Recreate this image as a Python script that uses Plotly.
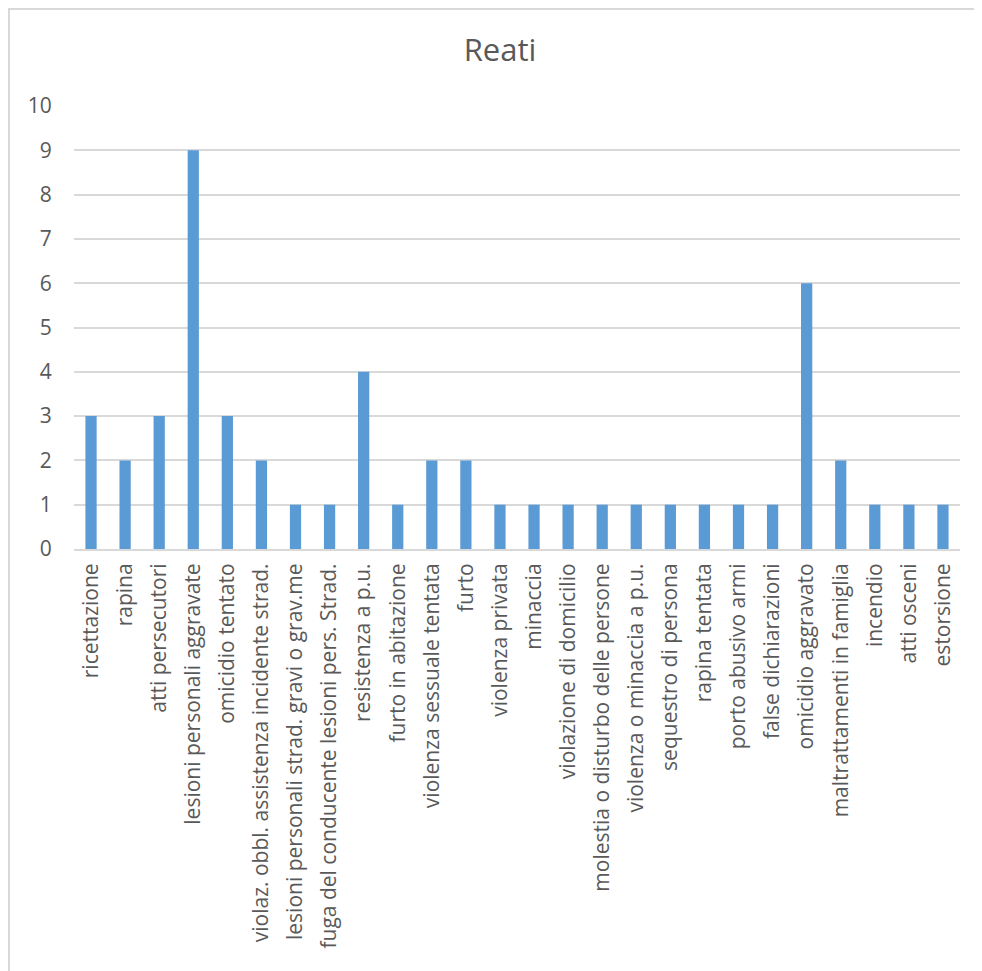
import plotly.graph_objects as go

categories = [
    "ricettazione", "rapina", "atti persecutori", "lesioni personali aggravate",
    "omicidio tentato", "violaz. obbl. assistenza incidente strad.",
    "lesioni personali strad. gravi o grav.me", "fuga del conducente lesioni pers. Strad.",
    "resistenza a p.u.", "furto in abitazione", "violenza sessuale tentata", "furto",
    "violenza privata", "minaccia", "violazione di domicilio",
    "molestia o disturbo delle persone", "violenza o minaccia a p.u.",
    "sequestro di persona", "rapina tentata", "porto abusivo armi",
    "false dichiarazioni", "omicidio aggravato", "maltrattamenti in famiglia",
    "incendio", "atti osceni", "estorsione",
]
values = [3, 2, 3, 9, 3, 2, 1, 1, 4, 1, 2, 2, 1, 1, 1, 1, 1, 1, 1, 1, 1, 6, 2, 1, 1, 1]
y_ticks = list(range(0, 11))

FONT = "'Open Sans', 'Noto Sans', sans-serif"
GRAY_TEXT = "#595959"
GRID = "#D9D9D9"

# page has an 8px body margin; figure sized/offset to compensate
W, H = 974, 963
ML, MT, MR, MB = 66, 98, 22, 422
PW = W - ML - MR
PH = H - MT - MB
BOTTOM = MT + PH

fig = go.Figure(go.Bar(x=categories, y=values, marker_color="#5B9BD5",
                       marker_line_width=0))

fig.update_layout(
    width=W, height=H,
    margin=dict(l=ML, r=MR, t=MT, b=MB),
    paper_bgcolor="white", plot_bgcolor="white",
    bargap=0.67,
    showlegend=False,
    title=dict(text="Reati", x=(500 - 8 - ML) / PW, xref="paper", xanchor="center",
               y=1 - 42 / H, yanchor="middle",
               font=dict(family=FONT, size=31, color=GRAY_TEXT)),
    font=dict(family=FONT, color=GRAY_TEXT),
    shapes=[dict(type="rect", xref="paper", yref="paper",
                 x0=(1 - ML) / PW, x1=(973 - ML) / PW,
                 y0=(BOTTOM - 975) / PH, y1=(BOTTOM - 1) / PH,
                 line=dict(color="#D9D9D9", width=2), layer="below")],
)
fig.update_xaxes(
    tickangle=-90, tickfont=dict(size=21, color=GRAY_TEXT, family=FONT),
    showline=True, linecolor=GRID, linewidth=2, showgrid=False,
    ticks="outside", ticklen=4, tickcolor="rgba(0,0,0,0)", automargin=False,
)
fig.update_yaxes(
    range=[0, 10], tickvals=y_ticks, showgrid=True, gridcolor=GRID, gridwidth=2,
    zeroline=False, showline=False, tickfont=dict(size=21, color=GRAY_TEXT, family=FONT),
    ticks="outside", ticklen=17, tickcolor="rgba(0,0,0,0)", automargin=False,
)

fig.write_html("out.html")
